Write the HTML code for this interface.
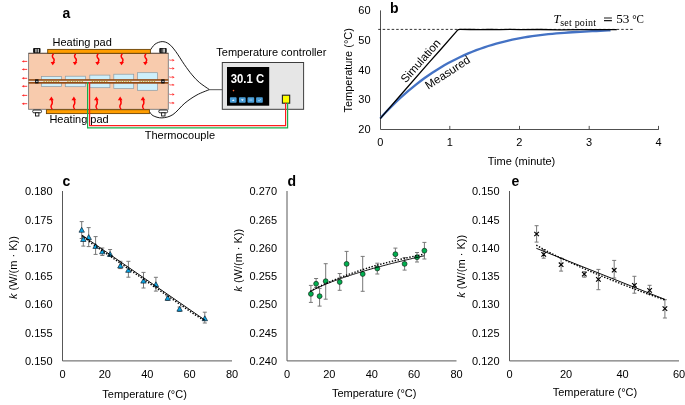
<!DOCTYPE html>
<html><head><meta charset="utf-8"><style>
html,body{margin:0;padding:0;background:#fff;}
svg{display:block;font-family:"Liberation Sans", sans-serif;}
text{filter:grayscale(1);}
</style></head><body>
<svg width="685" height="405" viewBox="0 0 685 405">
<rect width="685" height="405" fill="#fff"/>
<text x="62.4" y="18.0" font-size="14" text-anchor="start" font-weight="bold" fill="#000" >a</text>
<text x="52.5" y="46.2" font-size="11" text-anchor="start" font-weight="normal" fill="#000" >Heating pad</text>
<text x="49.4" y="123.1" font-size="11" text-anchor="start" font-weight="normal" fill="#000" >Heating pad</text>
<text x="216.3" y="55.6" font-size="11" text-anchor="start" font-weight="normal" fill="#000" >Temperature controller</text>
<text x="144.7" y="139" font-size="11" text-anchor="start" font-weight="normal" fill="#000" >Thermocouple</text>
<path d="M150.20,50.20 C151.00,49.20 153.00,45.63 155.00,44.20 C157.00,42.77 159.87,41.63 162.20,41.60 C164.53,41.57 166.77,42.38 169.00,44.00 C171.23,45.62 173.03,47.87 175.60,51.30 C178.17,54.73 181.67,60.68 184.40,64.60 C187.13,68.52 189.52,71.83 192.00,74.80 C194.48,77.77 196.40,79.93 199.30,82.40 C202.20,84.87 207.72,88.40 209.40,89.60" fill="none" stroke="#000" stroke-width="0.9"/>
<path d="M149.70,111.90 C150.27,112.53 151.07,114.70 153.10,115.70 C155.13,116.70 158.60,118.08 161.90,117.90 C165.20,117.72 169.07,117.07 172.90,114.60 C176.73,112.13 180.88,106.38 184.90,103.10 C188.92,99.82 192.92,97.15 197.00,94.90 C201.08,92.65 207.33,90.48 209.40,89.60" fill="none" stroke="#000" stroke-width="0.9"/>
<path d="M209.4,89.7 H222.5" stroke="#555" stroke-width="1"/>
<rect x="28.6" y="53.3" width="139.7" height="56" fill="#F8CBAD" stroke="#7a7a7a" stroke-width="0.9"/>
<path d="M28.6,53.3 H168.3" stroke="#5a4030" stroke-width="0.8"/>
<rect x="47.7" y="49.4" width="102.7" height="3.9" fill="#FF9D00" stroke="#6b4406" stroke-width="0.9"/>
<rect x="46.4" y="109.7" width="103" height="3.9" fill="#FF9D00" stroke="#6b4406" stroke-width="0.9"/>
<rect x="41.5" y="76.6" width="20.0" height="9.800000000000011" fill="#CDEFFB" stroke="#8c9aa3" stroke-width="0.7"/>
<rect x="65.3" y="76.2" width="20.299999999999997" height="10.5" fill="#CDEFFB" stroke="#8c9aa3" stroke-width="0.7"/>
<rect x="89.8" y="75.1" width="20.10000000000001" height="12.600000000000009" fill="#CDEFFB" stroke="#8c9aa3" stroke-width="0.7"/>
<rect x="113.8" y="74.2" width="19.89999999999999" height="14.299999999999997" fill="#CDEFFB" stroke="#8c9aa3" stroke-width="0.7"/>
<rect x="137.5" y="72.7" width="19.900000000000006" height="17.599999999999994" fill="#CDEFFB" stroke="#8c9aa3" stroke-width="0.7"/>
<rect x="28.6" y="79.15" width="139.7" height="4.55" fill="#934B16"/>
<path d="M28.6,81.4 H168.3" stroke="#e8e4e0" stroke-width="1.3"/>
<path d="M43.5,81.4 H59.5" stroke="#b8a020" stroke-width="1" stroke-dasharray="1.2,1.2"/>
<path d="M67.3,81.4 H83.6" stroke="#b8a020" stroke-width="1" stroke-dasharray="1.2,1.2"/>
<path d="M91.8,81.4 H107.9" stroke="#b8a020" stroke-width="1" stroke-dasharray="1.2,1.2"/>
<path d="M115.8,81.4 H131.7" stroke="#b8a020" stroke-width="1" stroke-dasharray="1.2,1.2"/>
<path d="M139.5,81.4 H155.4" stroke="#b8a020" stroke-width="1" stroke-dasharray="1.2,1.2"/>
<rect x="35.1" y="79.3" width="3.4" height="4.1" fill="#111"/>
<rect x="161.2" y="79.3" width="3.4" height="4.1" fill="#111"/>
<rect x="36.2" y="80.9" width="1.4" height="1" fill="#eee"/>
<rect x="162.3" y="80.9" width="1.4" height="1" fill="#eee"/>
<defs><linearGradient id="sg" x1="0" x2="1" y1="0" y2="0"><stop offset="0" stop-color="#1a1a1a"/><stop offset="0.45" stop-color="#666"/><stop offset="0.75" stop-color="#e8e8e8"/><stop offset="1" stop-color="#222"/></linearGradient></defs>
<rect x="33.1" y="48.1" width="7.4" height="5" rx="0.8" fill="#111"/>
<rect x="35.300000000000004" y="48.9" width="1.3" height="3.5" fill="#cfcfcf"/>
<rect x="37.7" y="48.9" width="1.1" height="3.5" fill="#e8e8e8"/>
<rect x="159.3" y="48.0" width="7.4" height="5.1" rx="0.8" fill="#111"/>
<rect x="160.2" y="48.7" width="5.4" height="3.8" fill="url(#sg)"/>
<rect x="32.699999999999996" y="110.0" width="8.8" height="2.8" rx="1.2" fill="#fff" stroke="#111" stroke-width="0.9"/>
<rect x="35.5" y="112.8" width="3.4" height="3.2" fill="#fff" stroke="#111" stroke-width="0.9"/>
<rect x="158.8" y="110.0" width="8.8" height="2.8" rx="1.2" fill="#fff" stroke="#111" stroke-width="0.9"/>
<rect x="161.6" y="112.8" width="3.4" height="3.2" fill="#fff" stroke="#111" stroke-width="0.9"/>
<path d="M53.60,53.8 C52.10,54.80 52.00,57.00 53.20,58.10 C54.60,59.40 54.50,61.00 52.80,62.70" fill="none" stroke="#ff0000" stroke-width="1.5"/>
<path d="M50.60,62.10 L55.20,62.10 L52.70,65.30 Z" fill="#ff0000"/>
<path d="M75.80,53.8 C74.30,54.80 74.20,57.00 75.40,58.10 C76.80,59.40 76.70,61.00 75.00,62.70" fill="none" stroke="#ff0000" stroke-width="1.5"/>
<path d="M72.80,62.10 L77.40,62.10 L74.90,65.30 Z" fill="#ff0000"/>
<path d="M98.30,53.8 C96.80,54.80 96.70,57.00 97.90,58.10 C99.30,59.40 99.20,61.00 97.50,62.70" fill="none" stroke="#ff0000" stroke-width="1.5"/>
<path d="M95.30,62.10 L99.90,62.10 L97.40,65.30 Z" fill="#ff0000"/>
<path d="M122.40,53.8 C120.90,54.80 120.80,57.00 122.00,58.10 C123.40,59.40 123.30,61.00 121.60,62.70" fill="none" stroke="#ff0000" stroke-width="1.5"/>
<path d="M119.40,62.10 L124.00,62.10 L121.50,65.30 Z" fill="#ff0000"/>
<path d="M146.10,53.8 C144.60,54.80 144.50,57.00 145.70,58.10 C147.10,59.40 147.00,61.00 145.30,62.70" fill="none" stroke="#ff0000" stroke-width="1.5"/>
<path d="M143.10,62.10 L147.70,62.10 L145.20,65.30 Z" fill="#ff0000"/>
<path d="M52.20,109.4 C51.00,107.90 50.70,106.40 51.20,105.40 C52.40,103.90 52.80,102.40 51.70,99.70" fill="none" stroke="#ff0000" stroke-width="1.5"/>
<path d="M49.00,100.20 L53.70,100.20 L51.40,96.50 Z" fill="#ff0000"/>
<path d="M74.70,109.4 C73.50,107.90 73.20,106.40 73.70,105.40 C74.90,103.90 75.30,102.40 74.20,99.70" fill="none" stroke="#ff0000" stroke-width="1.5"/>
<path d="M71.50,100.20 L76.20,100.20 L73.90,96.50 Z" fill="#ff0000"/>
<path d="M97.20,109.4 C96.00,107.90 95.70,106.40 96.20,105.40 C97.40,103.90 97.80,102.40 96.70,99.70" fill="none" stroke="#ff0000" stroke-width="1.5"/>
<path d="M94.00,100.20 L98.70,100.20 L96.40,96.50 Z" fill="#ff0000"/>
<path d="M121.00,109.4 C119.80,107.90 119.50,106.40 120.00,105.40 C121.20,103.90 121.60,102.40 120.50,99.70" fill="none" stroke="#ff0000" stroke-width="1.5"/>
<path d="M117.80,100.20 L122.50,100.20 L120.20,96.50 Z" fill="#ff0000"/>
<path d="M143.80,109.4 C142.60,107.90 142.30,106.40 142.80,105.40 C144.00,103.90 144.40,102.40 143.30,99.70" fill="none" stroke="#ff0000" stroke-width="1.5"/>
<path d="M140.60,100.20 L145.30,100.20 L143.00,96.50 Z" fill="#ff0000"/>
<path d="M27.2,61.4 H23.6" stroke="#ff3030" stroke-width="0.95"/>
<path d="M21.6,61.4 L24.1,60.199999999999996 L24.1,62.6 Z" fill="#ff3030"/>
<path d="M27.2,69.4 H23.6" stroke="#ff3030" stroke-width="0.95"/>
<path d="M21.6,69.4 L24.1,68.2 L24.1,70.60000000000001 Z" fill="#ff3030"/>
<path d="M27.2,78.3 H23.6" stroke="#ff3030" stroke-width="0.95"/>
<path d="M21.6,78.3 L24.1,77.1 L24.1,79.5 Z" fill="#ff3030"/>
<path d="M27.2,86.3 H23.6" stroke="#ff3030" stroke-width="0.95"/>
<path d="M21.6,86.3 L24.1,85.1 L24.1,87.5 Z" fill="#ff3030"/>
<path d="M27.2,95.4 H23.6" stroke="#ff3030" stroke-width="0.95"/>
<path d="M21.6,95.4 L24.1,94.2 L24.1,96.60000000000001 Z" fill="#ff3030"/>
<path d="M27.2,103.7 H23.6" stroke="#ff3030" stroke-width="0.95"/>
<path d="M21.6,103.7 L24.1,102.5 L24.1,104.9 Z" fill="#ff3030"/>
<path d="M169.2,60.2 C169.9,59.1 170.7,61.1 171.5,60.2 C172,59.7 172.4,59.800000000000004 172.9,60.2" fill="none" stroke="#ff3a3a" stroke-width="0.9"/>
<path d="M172.5,59.0 L174.6,60.2 L172.5,61.400000000000006 Z" fill="#ff2a2a"/>
<path d="M169.2,68.5 C169.9,67.4 170.7,69.4 171.5,68.5 C172,68.0 172.4,68.1 172.9,68.5" fill="none" stroke="#ff3a3a" stroke-width="0.9"/>
<path d="M172.5,67.3 L174.6,68.5 L172.5,69.7 Z" fill="#ff2a2a"/>
<path d="M169.2,77.2 C169.9,76.10000000000001 170.7,78.10000000000001 171.5,77.2 C172,76.7 172.4,76.8 172.9,77.2" fill="none" stroke="#ff3a3a" stroke-width="0.9"/>
<path d="M172.5,76.0 L174.6,77.2 L172.5,78.4 Z" fill="#ff2a2a"/>
<path d="M169.2,84.9 C169.9,83.80000000000001 170.7,85.80000000000001 171.5,84.9 C172,84.4 172.4,84.5 172.9,84.9" fill="none" stroke="#ff3a3a" stroke-width="0.9"/>
<path d="M172.5,83.7 L174.6,84.9 L172.5,86.10000000000001 Z" fill="#ff2a2a"/>
<path d="M169.2,94.5 C169.9,93.4 170.7,95.4 171.5,94.5 C172,94.0 172.4,94.1 172.9,94.5" fill="none" stroke="#ff3a3a" stroke-width="0.9"/>
<path d="M172.5,93.3 L174.6,94.5 L172.5,95.7 Z" fill="#ff2a2a"/>
<path d="M169.2,103.0 C169.9,101.9 170.7,103.9 171.5,103.0 C172,102.5 172.4,102.6 172.9,103.0" fill="none" stroke="#ff3a3a" stroke-width="0.9"/>
<path d="M172.5,101.8 L174.6,103.0 L172.5,104.2 Z" fill="#ff2a2a"/>
<rect x="222.3" y="62.5" width="81.3" height="46.8" fill="#E6E6E6" stroke="#3d3d3d" stroke-width="1"/>
<rect x="227.0" y="67.0" width="42.2" height="38.7" fill="#000"/>
<text x="230.7" y="82.5" font-size="12.4" font-weight="bold" fill="#fff" textLength="33.4" lengthAdjust="spacingAndGlyphs">30.1 C</text>
<circle cx="233.5" cy="90.6" r="0.8" fill="#ff6a3a"/>
<rect x="229.9" y="97.2" width="6.7" height="5.5" rx="0.8" fill="#4A9ED8"/>
<rect x="239.0" y="97.2" width="6.7" height="5.5" rx="0.8" fill="#4A9ED8"/>
<rect x="247.5" y="97.2" width="6.7" height="5.5" rx="0.8" fill="#4A9ED8"/>
<rect x="256.1" y="97.2" width="6.7" height="5.5" rx="0.8" fill="#4A9ED8"/>
<path d="M231.9,101.1 L233.25,99.2 L234.6,101.1 Z" fill="#e6f2ff"/>
<path d="M241,99.3 L242.35,101.2 L243.7,99.3 Z" fill="#e6f2ff"/>
<path d="M249.3,99.3 H252.4 M249.3,100.5 H252.4" stroke="#a8d0f0" stroke-width="0.5"/>
<path d="M258.1,100.1 L259.2,101.1 L260.9,98.9" fill="none" stroke="#c8e4fa" stroke-width="0.6"/>
<rect x="282.4" y="95.2" width="7.3" height="8.0" fill="#FFFF00" stroke="#222" stroke-width="1.1"/>
<path d="M89.6,82 V125.6 H285.6 V102.9" fill="none" stroke="#ff1c1c" stroke-width="1.2"/>
<path d="M87.6,82 V127.8 H287.6 V102.9" fill="none" stroke="#17b04c" stroke-width="1.2"/>
<text x="390.0" y="12.7" font-size="14" text-anchor="start" font-weight="bold" fill="#000" >b</text>
<path d="M380.5,10.4 V129.5 H658.8" fill="none" stroke="#505050" stroke-width="1"/>
<path d="M449.8,129.5 V125.9" stroke="#505050" stroke-width="1"/>
<path d="M519.5,129.5 V125.9" stroke="#505050" stroke-width="1"/>
<path d="M589.2,129.5 V125.9" stroke="#505050" stroke-width="1"/>
<path d="M658.5,129.5 V125.9" stroke="#505050" stroke-width="1"/>
<text x="370.6" y="14.3" font-size="11" text-anchor="end" font-weight="normal" fill="#000" >60</text>
<text x="370.6" y="44.0" font-size="11" text-anchor="end" font-weight="normal" fill="#000" >50</text>
<text x="370.6" y="73.7" font-size="11" text-anchor="end" font-weight="normal" fill="#000" >40</text>
<text x="370.6" y="103.4" font-size="11" text-anchor="end" font-weight="normal" fill="#000" >30</text>
<text x="370.6" y="133.1" font-size="11" text-anchor="end" font-weight="normal" fill="#000" >20</text>
<text x="380.2" y="146" font-size="11" text-anchor="middle" font-weight="normal" fill="#000" >0</text>
<text x="449.7" y="146" font-size="11" text-anchor="middle" font-weight="normal" fill="#000" >1</text>
<text x="519.4" y="146" font-size="11" text-anchor="middle" font-weight="normal" fill="#000" >2</text>
<text x="589.1" y="146" font-size="11" text-anchor="middle" font-weight="normal" fill="#000" >3</text>
<text x="658.5" y="146" font-size="11" text-anchor="middle" font-weight="normal" fill="#000" >4</text>
<text x="521.5" y="164.8" font-size="11" text-anchor="middle" font-weight="normal" fill="#000" >Time (minute)</text>
<text transform="translate(351.5,70.3) rotate(-90)" font-size="11" text-anchor="middle">Temperature (°C)</text>
<path d="M378.2,29.4 H633.3" stroke="#000" stroke-width="0.8" stroke-dasharray="2.5,2"/>
<polyline points="380.3,118.16 384.3,113.81 388.3,109.63 392.3,105.59 396.3,101.69 400.3,97.94 404.3,94.33 408.3,90.86 412.3,87.53 416.3,84.32 420.3,81.25 424.3,78.30 428.3,75.47 432.3,72.77 436.3,70.18 440.3,67.71 444.3,65.35 448.3,63.11 452.3,60.96 456.3,58.92 460.3,56.99 464.3,55.15 468.3,53.40 472.3,51.75 476.3,50.19 480.3,48.72 484.3,47.32 488.3,46.01 492.3,44.78 496.3,43.63 500.3,42.54 504.3,41.53 508.3,40.58 512.3,39.70 516.3,38.88 520.3,38.12 524.3,37.41 528.3,36.76 532.3,36.16 536.3,35.60 540.3,35.09 544.3,34.62 548.3,34.18 552.3,33.79 556.3,33.43 560.3,33.09 564.3,32.79 568.3,32.51 572.3,32.25 576.3,32.01 580.3,31.79 584.3,31.57 588.3,31.37 592.3,31.18 596.3,30.99 600.3,30.81 604.3,30.62 608.3,30.43 610.5,30.32" fill="none" stroke="#4472C4" stroke-width="2.3" stroke-linejoin="round"/>
<path d="M380.2,118.6 L400,95.8 L429.6,61.9 L440,50.3 L457.6,30.1 Q458.6,29.2 460.2,29.3 L470,29.5 L480,29.6 L490,29.3 L500,29.6 L510,29.4 L520,29.6 L540,29.5 L560,29.8 L580,29.6 L600,29.7 L616.8,29.7" fill="none" stroke="#000" stroke-width="1.3" stroke-linejoin="round"/>
<text transform="translate(423.5,63.5) rotate(-48.5)" font-size="11.5" text-anchor="middle">Simulation</text>
<text transform="translate(449.7,75.8) rotate(-33)" font-size="11.5" text-anchor="middle">Measured</text>
<text x="553.6" y="22.7" font-family="Liberation Serif, serif" font-size="12.5" font-style="italic">T</text>
<text x="560.2" y="25.9" font-family="Liberation Serif, serif" font-size="10" textLength="35.8" lengthAdjust="spacing">set point</text>
<path d="M604,17.9 H611.9 M604,20.6 H611.9" stroke="#1a1a1a" stroke-width="1.05"/>
<text x="616.2" y="22.7" font-family="Liberation Serif, serif" font-size="12.5" textLength="13.2" lengthAdjust="spacingAndGlyphs">53</text>
<text x="632.2" y="22.7" font-family="Liberation Serif, serif" font-size="12.5" textLength="11.8" lengthAdjust="spacingAndGlyphs">°C</text>
<path d="M62.5,191 V360.9 H232.0" fill="none" stroke="#585858" stroke-width="1"/>
<text x="52.5" y="195.4" font-size="11" text-anchor="end" font-weight="normal" fill="#000" >0.180</text>
<text x="52.5" y="223.63" font-size="11" text-anchor="end" font-weight="normal" fill="#000" >0.175</text>
<text x="52.5" y="251.86" font-size="11" text-anchor="end" font-weight="normal" fill="#000" >0.170</text>
<text x="52.5" y="280.09" font-size="11" text-anchor="end" font-weight="normal" fill="#000" >0.165</text>
<text x="52.5" y="308.32" font-size="11" text-anchor="end" font-weight="normal" fill="#000" >0.160</text>
<text x="52.5" y="336.54999999999995" font-size="11" text-anchor="end" font-weight="normal" fill="#000" >0.155</text>
<text x="52.5" y="364.78" font-size="11" text-anchor="end" font-weight="normal" fill="#000" >0.150</text>
<text x="62.5" y="377.8" font-size="11" text-anchor="middle" font-weight="normal" fill="#000" >0</text>
<text x="104.875" y="377.8" font-size="11" text-anchor="middle" font-weight="normal" fill="#000" >20</text>
<text x="147.25" y="377.8" font-size="11" text-anchor="middle" font-weight="normal" fill="#000" >40</text>
<text x="189.625" y="377.8" font-size="11" text-anchor="middle" font-weight="normal" fill="#000" >60</text>
<text x="232.0" y="377.8" font-size="11" text-anchor="middle" font-weight="normal" fill="#000" >80</text>
<text x="62.5" y="185.6" font-size="14" text-anchor="start" font-weight="bold" fill="#000" >c</text>
<path d="M287.0,191 V360.9 H456.5" fill="none" stroke="#585858" stroke-width="1"/>
<text x="277.0" y="195.4" font-size="11" text-anchor="end" font-weight="normal" fill="#000" >0.270</text>
<text x="277.0" y="223.63" font-size="11" text-anchor="end" font-weight="normal" fill="#000" >0.265</text>
<text x="277.0" y="251.86" font-size="11" text-anchor="end" font-weight="normal" fill="#000" >0.260</text>
<text x="277.0" y="280.09" font-size="11" text-anchor="end" font-weight="normal" fill="#000" >0.255</text>
<text x="277.0" y="308.32" font-size="11" text-anchor="end" font-weight="normal" fill="#000" >0.250</text>
<text x="277.0" y="336.54999999999995" font-size="11" text-anchor="end" font-weight="normal" fill="#000" >0.245</text>
<text x="277.0" y="364.78" font-size="11" text-anchor="end" font-weight="normal" fill="#000" >0.240</text>
<text x="287.0" y="377.8" font-size="11" text-anchor="middle" font-weight="normal" fill="#000" >0</text>
<text x="329.375" y="377.8" font-size="11" text-anchor="middle" font-weight="normal" fill="#000" >20</text>
<text x="371.75" y="377.8" font-size="11" text-anchor="middle" font-weight="normal" fill="#000" >40</text>
<text x="414.125" y="377.8" font-size="11" text-anchor="middle" font-weight="normal" fill="#000" >60</text>
<text x="456.5" y="377.8" font-size="11" text-anchor="middle" font-weight="normal" fill="#000" >80</text>
<text x="287.4" y="185.6" font-size="14" text-anchor="start" font-weight="bold" fill="#000" >d</text>
<path d="M509.5,191 V360.9 H679.0" fill="none" stroke="#585858" stroke-width="1"/>
<text x="499.5" y="195.4" font-size="11" text-anchor="end" font-weight="normal" fill="#000" >0.150</text>
<text x="499.5" y="223.63" font-size="11" text-anchor="end" font-weight="normal" fill="#000" >0.145</text>
<text x="499.5" y="251.86" font-size="11" text-anchor="end" font-weight="normal" fill="#000" >0.140</text>
<text x="499.5" y="280.09" font-size="11" text-anchor="end" font-weight="normal" fill="#000" >0.135</text>
<text x="499.5" y="308.32" font-size="11" text-anchor="end" font-weight="normal" fill="#000" >0.130</text>
<text x="499.5" y="336.54999999999995" font-size="11" text-anchor="end" font-weight="normal" fill="#000" >0.125</text>
<text x="499.5" y="364.78" font-size="11" text-anchor="end" font-weight="normal" fill="#000" >0.120</text>
<text x="509.5" y="377.8" font-size="11" text-anchor="middle" font-weight="normal" fill="#000" >0</text>
<text x="566.0" y="377.8" font-size="11" text-anchor="middle" font-weight="normal" fill="#000" >20</text>
<text x="622.5" y="377.8" font-size="11" text-anchor="middle" font-weight="normal" fill="#000" >40</text>
<text x="679.0" y="377.8" font-size="11" text-anchor="middle" font-weight="normal" fill="#000" >60</text>
<text x="511.4" y="185.6" font-size="14" text-anchor="start" font-weight="bold" fill="#000" >e</text>
<text x="144.6" y="398" font-size="11" text-anchor="middle" font-weight="normal" fill="#000" >Temperature (°C)</text>
<text x="374.2" y="397" font-size="11" text-anchor="middle" font-weight="normal" fill="#000" >Temperature (°C)</text>
<text x="595" y="396" font-size="11" text-anchor="middle" font-weight="normal" fill="#000" >Temperature (°C)</text>
<text transform="translate(17.3,267.6) rotate(-90)" font-size="11" text-anchor="middle"><tspan font-style="italic">k</tspan> (W/(m · K))</text>
<text transform="translate(241.5,260.2) rotate(-90)" font-size="11" text-anchor="middle"><tspan font-style="italic">k</tspan> (W/(m · K))</text>
<text transform="translate(464.5,266.4) rotate(-90)" font-size="11" text-anchor="middle"><tspan font-style="italic">k</tspan> (W/(m · K))</text>
<path d="M81.7,221.6 V238.5 M79.7,221.6 H83.7 M79.7,238.5 H83.7" stroke="#787878" stroke-width="1" fill="none"/>
<path d="M83.3,237.1 V246.1 M81.3,237.1 H85.3 M81.3,246.1 H85.3" stroke="#787878" stroke-width="1" fill="none"/>
<path d="M88.7,227.6 V246.6 M86.7,227.6 H90.7 M86.7,246.6 H90.7" stroke="#787878" stroke-width="1" fill="none"/>
<path d="M95.6,236.6 V254.4 M93.6,236.6 H97.6 M93.6,254.4 H97.6" stroke="#787878" stroke-width="1" fill="none"/>
<path d="M102.3,248 V255.5 M100.3,248 H104.3 M100.3,255.5 H104.3" stroke="#787878" stroke-width="1" fill="none"/>
<path d="M110.1,249.5 V256.5 M108.1,249.5 H112.1 M108.1,256.5 H112.1" stroke="#787878" stroke-width="1" fill="none"/>
<path d="M120.4,261.3 V268.6 M118.4,261.3 H122.4 M118.4,268.6 H122.4" stroke="#787878" stroke-width="1" fill="none"/>
<path d="M128.4,261.3 V277.2 M126.4,261.3 H130.4 M126.4,277.2 H130.4" stroke="#787878" stroke-width="1" fill="none"/>
<path d="M143.5,272.4 V288 M141.5,272.4 H145.5 M141.5,288 H145.5" stroke="#787878" stroke-width="1" fill="none"/>
<path d="M155.9,277.3 V291.1 M153.9,277.3 H157.9 M153.9,291.1 H157.9" stroke="#787878" stroke-width="1" fill="none"/>
<path d="M167.7,296 V300.5 M165.7,296 H169.7 M165.7,300.5 H169.7" stroke="#787878" stroke-width="1" fill="none"/>
<path d="M179.6,307 V311.5 M177.6,307 H181.6 M177.6,311.5 H181.6" stroke="#787878" stroke-width="1" fill="none"/>
<path d="M204.8,312.2 V323 M202.8,312.2 H206.8 M202.8,323 H206.8" stroke="#787878" stroke-width="1" fill="none"/>
<path d="M81.7,227.29999999999998 L84.4,232.2 L79.0,232.2 Z" fill="#0AA8E8" stroke="#10202e" stroke-width="0.7"/>
<path d="M83.3,236.6 L86.0,241.5 L80.6,241.5 Z" fill="#0AA8E8" stroke="#10202e" stroke-width="0.7"/>
<path d="M88.7,234.6 L91.4,239.5 L86.0,239.5 Z" fill="#0AA8E8" stroke="#10202e" stroke-width="0.7"/>
<path d="M95.6,243.5 L98.3,248.4 L92.89999999999999,248.4 Z" fill="#0AA8E8" stroke="#10202e" stroke-width="0.7"/>
<path d="M102.3,248.9 L105.0,253.8 L99.6,253.8 Z" fill="#0AA8E8" stroke="#10202e" stroke-width="0.7"/>
<path d="M110.1,251.5 L112.8,256.4 L107.39999999999999,256.4 Z" fill="#0AA8E8" stroke="#10202e" stroke-width="0.7"/>
<path d="M120.4,263.1 L123.10000000000001,268 L117.7,268 Z" fill="#0AA8E8" stroke="#10202e" stroke-width="0.7"/>
<path d="M128.4,267.40000000000003 L131.1,272.3 L125.7,272.3 Z" fill="#0AA8E8" stroke="#10202e" stroke-width="0.7"/>
<path d="M143.5,278.20000000000005 L146.2,283.1 L140.8,283.1 Z" fill="#0AA8E8" stroke="#10202e" stroke-width="0.7"/>
<path d="M155.9,281.8 L158.6,286.7 L153.20000000000002,286.7 Z" fill="#0AA8E8" stroke="#10202e" stroke-width="0.7"/>
<path d="M167.7,295.40000000000003 L170.39999999999998,300.3 L165.0,300.3 Z" fill="#0AA8E8" stroke="#10202e" stroke-width="0.7"/>
<path d="M179.6,306.3 L182.29999999999998,311.2 L176.9,311.2 Z" fill="#0AA8E8" stroke="#10202e" stroke-width="0.7"/>
<path d="M204.8,315.8 L207.5,320.7 L202.10000000000002,320.7 Z" fill="#0AA8E8" stroke="#10202e" stroke-width="0.7"/>
<polyline points="82.00,235.52 84.00,237.10 86.00,238.74 88.00,240.37 90.00,242.00 92.00,243.63 94.00,245.01 96.00,246.39 98.00,247.77 100.00,249.15 102.00,250.53 104.00,251.91 106.00,253.30 108.00,254.68 110.00,256.06 112.00,257.44 114.00,258.82 116.00,260.20 118.00,261.58 120.00,262.96 122.00,264.34 124.00,265.72 126.00,267.11 128.00,268.49 130.00,269.87 132.00,271.25 134.00,272.63 136.00,274.01 138.00,275.39 140.00,276.77 142.00,278.15 144.00,279.53 146.00,280.92 148.00,282.30 150.00,283.68 152.00,285.06 154.00,286.44 156.00,287.82 158.00,289.20 160.00,290.58 162.00,291.96 164.00,293.34 166.00,294.73 168.00,296.11 170.00,297.49 172.00,298.87 174.00,300.25 176.00,301.63 178.00,303.01 180.00,304.39 182.00,305.77 184.00,307.15 186.00,308.54 188.00,309.92 190.00,311.30 192.00,312.68 194.00,314.06 196.00,315.35 198.00,316.55 200.00,317.76 202.00,318.96 204.00,320.16" fill="none" stroke="#000" stroke-width="1.45" stroke-dasharray="1.4,1.6"/>
<path d="M82.4,235.50 L205.1,320.22" fill="none" stroke="#000" stroke-width="0.95"/>
<path d="M310.9,285.4 V302.4 M308.9,285.4 H312.9 M308.9,302.4 H312.9" stroke="#787878" stroke-width="1" fill="none"/>
<path d="M316.1,278.5 V287.4 M314.1,278.5 H318.1 M314.1,287.4 H318.1" stroke="#787878" stroke-width="1" fill="none"/>
<path d="M319.6,288.4 V306.1 M317.6,288.4 H321.6 M317.6,306.1 H321.6" stroke="#787878" stroke-width="1" fill="none"/>
<path d="M325.7,263.7 V299.2 M323.7,263.7 H327.7 M323.7,299.2 H327.7" stroke="#787878" stroke-width="1" fill="none"/>
<path d="M339.7,273.5 V290.3 M337.7,273.5 H341.7 M337.7,290.3 H341.7" stroke="#787878" stroke-width="1" fill="none"/>
<path d="M346.6,251.4 V276.5 M344.6,251.4 H348.6 M344.6,276.5 H348.6" stroke="#787878" stroke-width="1" fill="none"/>
<path d="M362.7,256.4 V291.3 M360.7,256.4 H364.7 M360.7,291.3 H364.7" stroke="#787878" stroke-width="1" fill="none"/>
<path d="M377.3,263.2 V274 M375.3,263.2 H379.3 M375.3,274 H379.3" stroke="#787878" stroke-width="1" fill="none"/>
<path d="M395.4,248.1 V258.5 M393.4,248.1 H397.4 M393.4,258.5 H397.4" stroke="#787878" stroke-width="1" fill="none"/>
<path d="M404.6,257.6 V270.1 M402.6,257.6 H406.6 M402.6,270.1 H406.6" stroke="#787878" stroke-width="1" fill="none"/>
<path d="M417,252.5 V262 M415,252.5 H419 M415,262 H419" stroke="#787878" stroke-width="1" fill="none"/>
<path d="M424.4,242.4 V259 M422.4,242.4 H426.4 M422.4,259 H426.4" stroke="#787878" stroke-width="1" fill="none"/>
<circle cx="310.9" cy="293.9" r="2.45" fill="#00B050" stroke="#14261a" stroke-width="0.7"/>
<circle cx="316.1" cy="283.8" r="2.45" fill="#00B050" stroke="#14261a" stroke-width="0.7"/>
<circle cx="319.6" cy="296.2" r="2.45" fill="#00B050" stroke="#14261a" stroke-width="0.7"/>
<circle cx="325.7" cy="281.2" r="2.45" fill="#00B050" stroke="#14261a" stroke-width="0.7"/>
<circle cx="339.7" cy="282" r="2.45" fill="#00B050" stroke="#14261a" stroke-width="0.7"/>
<circle cx="346.6" cy="263.9" r="2.45" fill="#00B050" stroke="#14261a" stroke-width="0.7"/>
<circle cx="362.7" cy="274" r="2.45" fill="#00B050" stroke="#14261a" stroke-width="0.7"/>
<circle cx="377.3" cy="268.5" r="2.45" fill="#00B050" stroke="#14261a" stroke-width="0.7"/>
<circle cx="395.4" cy="254.2" r="2.45" fill="#00B050" stroke="#14261a" stroke-width="0.7"/>
<circle cx="404.6" cy="263.9" r="2.45" fill="#00B050" stroke="#14261a" stroke-width="0.7"/>
<circle cx="417" cy="257.3" r="2.45" fill="#00B050" stroke="#14261a" stroke-width="0.7"/>
<circle cx="424.4" cy="250.7" r="2.45" fill="#00B050" stroke="#14261a" stroke-width="0.7"/>
<polyline points="310.30,291.26 311.80,290.42 313.30,289.61 314.80,288.82 316.30,288.05 317.80,287.30 319.30,286.56 320.80,285.84 322.30,285.14 323.80,284.45 325.30,283.77 326.80,283.10 328.30,282.45 329.80,281.81 331.30,281.17 332.80,280.54 334.30,279.93 335.80,279.32 337.30,278.72 338.80,278.13 340.30,277.55 341.80,276.97 343.30,276.40 344.80,275.84 346.30,275.28 347.80,274.73 349.30,274.19 350.80,273.65 352.30,273.12 353.80,272.60 355.30,272.08 356.80,271.56 358.30,271.06 359.80,270.55 361.30,270.06 362.80,269.56 364.30,269.07 365.80,268.59 367.30,268.11 368.80,267.63 370.30,267.16 371.80,266.69 373.30,266.23 374.80,265.76 376.30,265.36 377.80,264.96 379.30,264.56 380.80,264.17 382.30,263.79 383.80,263.40 385.30,263.02 386.80,262.64 388.30,262.27 389.80,261.89 391.30,261.52 392.80,261.16 394.30,260.79 395.80,260.43 397.30,260.07 398.80,259.71 400.30,259.36 401.80,259.01 403.30,258.67 404.80,258.33 406.30,257.99 407.80,257.65 409.30,257.32 410.80,256.99 412.30,256.66 413.80,256.33 415.30,256.01 416.80,255.68 418.30,255.36 419.80,255.04 421.30,254.72 422.80,254.41 424.30,254.09 424.40,254.07" fill="none" stroke="#000" stroke-width="1.45" stroke-dasharray="1.4,1.6"/>
<polyline points="310.30,291.46 311.80,290.67 313.30,289.90 314.80,289.16 316.30,288.43 317.80,287.73 319.30,287.04 320.80,286.36 322.30,285.70 323.80,285.06 325.30,284.43 326.80,283.81 328.30,283.20 329.80,282.60 331.30,282.01 332.80,281.43 334.30,280.86 335.80,280.30 337.30,279.75 338.80,279.21 340.30,278.67 341.80,278.15 343.30,277.63 344.80,277.11 346.30,276.60 347.80,276.10 349.30,275.61 350.80,275.12 352.30,274.64 353.80,274.16 355.30,273.69 356.80,273.22 358.30,272.76 359.80,272.30 361.30,271.85 362.80,271.40 364.30,270.95 365.80,270.51 367.30,270.08 368.80,269.65 370.30,269.22 371.80,268.79 373.30,268.37 374.80,267.96 376.30,267.55 377.80,267.14 379.30,266.73 380.80,266.33 382.30,265.93 383.80,265.53 385.30,265.14 386.80,264.75 388.30,264.36 389.80,263.97 391.30,263.59 392.80,263.21 394.30,262.84 395.80,262.46 397.30,262.09 398.80,261.72 400.30,261.36 401.80,260.99 403.30,260.63 404.80,260.27 406.30,259.91 407.80,259.56 409.30,259.21 410.80,258.86 412.30,258.51 413.80,258.16 415.30,257.82 416.80,257.47 418.30,257.13 419.80,256.80 421.30,256.46 422.80,256.13 424.30,255.79 424.40,255.77" fill="none" stroke="#000" stroke-width="0.95"/>
<path d="M536.6,225.7 V242.1 M534.6,225.7 H538.6 M534.6,242.1 H538.6" stroke="#787878" stroke-width="1" fill="none"/>
<path d="M543.7,249.5 V258.2 M541.7,249.5 H545.7 M541.7,258.2 H545.7" stroke="#787878" stroke-width="1" fill="none"/>
<path d="M561.1,258.2 V271.1 M559.1,258.2 H563.1 M559.1,271.1 H563.1" stroke="#787878" stroke-width="1" fill="none"/>
<path d="M584.3,271.7 V277.2 M582.3,271.7 H586.3 M582.3,277.2 H586.3" stroke="#787878" stroke-width="1" fill="none"/>
<path d="M598.4,269.4 V289.7 M596.4,269.4 H600.4 M596.4,289.7 H600.4" stroke="#787878" stroke-width="1" fill="none"/>
<path d="M614.2,260.4 V278 M612.2,260.4 H616.2 M612.2,278 H616.2" stroke="#787878" stroke-width="1" fill="none"/>
<path d="M634.4,276.3 V293.2 M632.4,276.3 H636.4 M632.4,293.2 H636.4" stroke="#787878" stroke-width="1" fill="none"/>
<path d="M649.6,285.3 V294.4 M647.6,285.3 H651.6 M647.6,294.4 H651.6" stroke="#787878" stroke-width="1" fill="none"/>
<path d="M664.9,299.7 V318 M662.9,299.7 H666.9 M662.9,318 H666.9" stroke="#787878" stroke-width="1" fill="none"/>
<path d="M534.3000000000001,231.8 L538.9,236.2 M538.9,231.8 L534.3000000000001,236.2" stroke="#000" stroke-width="1.15"/>
<path d="M541.4000000000001,252.20000000000002 L546.0,256.6 M546.0,252.20000000000002 L541.4000000000001,256.6" stroke="#000" stroke-width="1.15"/>
<path d="M558.8000000000001,262.5 L563.4,266.9 M563.4,262.5 L558.8000000000001,266.9" stroke="#000" stroke-width="1.15"/>
<path d="M582.0,271.90000000000003 L586.5999999999999,276.3 M586.5999999999999,271.90000000000003 L582.0,276.3" stroke="#000" stroke-width="1.15"/>
<path d="M596.1,277.2 L600.6999999999999,281.59999999999997 M600.6999999999999,277.2 L596.1,281.59999999999997" stroke="#000" stroke-width="1.15"/>
<path d="M611.9000000000001,268.0 L616.5,272.4 M616.5,268.0 L611.9000000000001,272.4" stroke="#000" stroke-width="1.15"/>
<path d="M632.1,283.1 L636.6999999999999,287.5 M636.6999999999999,283.1 L632.1,287.5" stroke="#000" stroke-width="1.15"/>
<path d="M647.3000000000001,288.2 L651.9,292.59999999999997 M651.9,288.2 L647.3000000000001,292.59999999999997" stroke="#000" stroke-width="1.15"/>
<path d="M662.6,306.40000000000003 L667.1999999999999,310.8 M667.1999999999999,306.40000000000003 L662.6,310.8" stroke="#000" stroke-width="1.15"/>
<polyline points="536.30,245.20 537.80,246.04 539.30,246.88 540.80,247.72 542.30,248.56 543.80,249.40 545.30,250.24 546.80,251.08 548.30,251.90 549.80,252.65 551.30,253.39 552.80,254.14 554.30,254.89 555.80,255.63 557.30,256.38 558.80,257.12 560.30,257.86 561.80,258.54 563.30,259.23 564.80,259.92 566.30,260.60 567.80,261.29 569.30,261.98 570.80,262.66 572.30,263.35 573.80,264.03 575.30,264.72 576.80,265.41 578.30,266.09 579.80,266.78 581.30,267.43 582.80,268.07 584.30,268.71 585.80,269.35 587.30,269.99 588.80,270.63 590.30,271.27 591.80,271.92 593.30,272.56 594.80,273.20 596.30,273.84 597.80,274.48 599.30,275.12 600.80,275.74 602.30,276.34 603.80,276.93 605.30,277.53 606.80,278.12 608.30,278.72 609.80,279.32 611.30,279.91 612.80,280.51 614.30,281.11 615.80,281.70 617.30,282.30 618.80,282.89 620.30,283.49 621.80,284.09 623.30,284.68 624.80,285.28 626.30,285.88 627.80,286.47 629.30,287.07 630.80,287.64 632.30,288.20 633.80,288.76 635.30,289.32 636.80,289.88 638.30,290.44 639.80,291.00 641.30,291.56 642.80,292.11 644.30,292.67 645.80,293.23 647.30,293.79 648.80,294.35 650.30,294.90 651.80,295.42 653.30,295.93 654.80,296.45 656.30,296.97 657.80,297.48 659.30,298.00 660.80,298.52 662.30,299.03 663.80,299.55 665.10,300.00" fill="none" stroke="#000" stroke-width="1.45" stroke-dasharray="1.4,1.6"/>
<path d="M536.3,248.3 L665.1,299.50" fill="none" stroke="#000" stroke-width="0.95"/>
</svg>
</body></html>
